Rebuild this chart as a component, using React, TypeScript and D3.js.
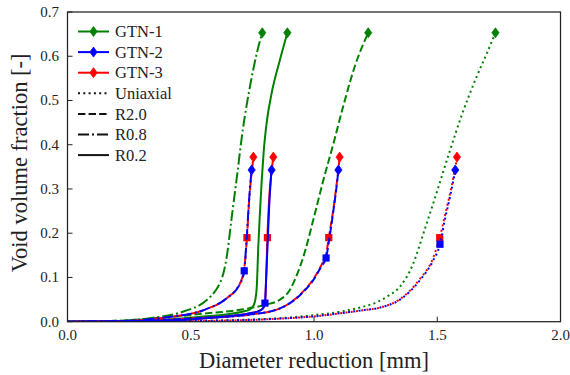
import React from "react";
import * as d3 from "d3";

type Pt = [number, number];

const xTicks = [0, 0.5, 1.0, 1.5, 2.0];
const yTicks = [0, 0.1, 0.2, 0.3, 0.4, 0.5, 0.6, 0.7];

// GTN-1 (green)
const gtn1Uniaxial: Pt[] = [[0,0],[0.3,0.0005],[0.6,0.003],[0.862,0.008],[1.0,0.015],[1.1,0.022],[1.2,0.034],[1.25,0.043],[1.3,0.058],[1.35,0.08],[1.4,0.128],[1.45,0.21],[1.5,0.296],[1.55,0.384],[1.6,0.468],[1.66,0.554],[1.7,0.605],[1.736,0.653]];
const gtn1R20: Pt[] = [[0,0],[0.2,0.002],[0.4,0.01],[0.55,0.018],[0.7,0.027],[0.8,0.038],[0.862,0.05],[0.9,0.07],[0.93,0.105],[0.957,0.147],[0.997,0.23],[1.038,0.32],[1.08,0.405],[1.12,0.49],[1.166,0.578],[1.22,0.653]];
const gtn1R08: Pt[] = [[0,0],[0.2,0.002],[0.335,0.008],[0.47,0.023],[0.565,0.049],[0.6,0.07],[0.619,0.088],[0.635,0.115],[0.646,0.147],[0.666,0.235],[0.686,0.322],[0.713,0.441],[0.74,0.531],[0.768,0.607],[0.79,0.653]];
const gtn1R02: Pt[] = [[0,0],[0.3,0.002],[0.538,0.011],[0.65,0.017],[0.713,0.023],[0.74,0.028],[0.754,0.036],[0.762,0.05],[0.768,0.08],[0.774,0.17],[0.781,0.25],[0.788,0.32],[0.796,0.385],[0.808,0.45],[0.828,0.516],[0.862,0.592],[0.892,0.653]];

// GTN-2 (blue)
const gtn2Uniaxial: Pt[] = [[0,0],[0.3,0.0004],[0.6,0.002],[0.862,0.007],[1.0,0.012],[1.133,0.021],[1.2,0.026],[1.268,0.032],[1.349,0.05],[1.43,0.094],[1.484,0.139],[1.511,0.175],[1.53,0.228],[1.552,0.283],[1.565,0.318],[1.573,0.343]];
const gtn2R20: Pt[] = [[0,0],[0.3,0.002],[0.5,0.007],[0.74,0.016],[0.862,0.03],[0.943,0.06],[0.997,0.094],[1.03,0.125],[1.049,0.144],[1.06,0.18],[1.078,0.248],[1.095,0.322],[1.099,0.343]];
const gtn2R08: Pt[] = [[0,0],[0.2,0.001],[0.402,0.01],[0.551,0.026],[0.646,0.053],[0.693,0.079],[0.708,0.095],[0.717,0.115],[0.727,0.19],[0.736,0.27],[0.743,0.32],[0.747,0.343]];
const gtn2R02: Pt[] = [[0,0],[0.3,0.001],[0.605,0.01],[0.74,0.019],[0.78,0.025],[0.794,0.031],[0.801,0.042],[0.806,0.1],[0.811,0.165],[0.819,0.27],[0.824,0.315],[0.828,0.343]];
const gtn2Squares: Pt[] = [[0.717,0.115],[0.801,0.042],[1.049,0.144],[1.511,0.175]];

// GTN-3 (red)
const gtn3Uniaxial: Pt[] = [[0,0],[0.3,0.0004],[0.6,0.002],[0.862,0.007],[1.0,0.012],[1.133,0.021],[1.2,0.026],[1.268,0.032],[1.349,0.051],[1.43,0.097],[1.484,0.145],[1.51,0.19],[1.53,0.237],[1.552,0.29],[1.565,0.325],[1.573,0.348],[1.58,0.372]];
const gtn3R20: Pt[] = [[0,0],[0.3,0.002],[0.5,0.007],[0.74,0.016],[0.862,0.03],[0.943,0.061],[0.997,0.096],[1.03,0.128],[1.05,0.155],[1.06,0.19],[1.078,0.252],[1.095,0.325],[1.1,0.348],[1.104,0.372]];
const gtn3R08: Pt[] = [[0,0],[0.2,0.001],[0.402,0.01],[0.551,0.026],[0.646,0.053],[0.693,0.08],[0.708,0.098],[0.718,0.125],[0.728,0.19],[0.737,0.275],[0.744,0.32],[0.749,0.345],[0.754,0.372]];
const gtn3R02: Pt[] = [[0,0],[0.3,0.001],[0.605,0.01],[0.74,0.019],[0.78,0.025],[0.794,0.031],[0.802,0.045],[0.806,0.1],[0.811,0.19],[0.819,0.285],[0.826,0.33],[0.835,0.372]];
const gtn3Squares: Pt[] = [[0.728,0.19],[0.811,0.19],[1.06,0.19],[1.51,0.19]];

const gtnNames = ["GTN-1", "GTN-2", "GTN-3"];
const gtnColors = ["#008000", "#0000ff", "#ff0000"];
const loadNames = ["Uniaxial", "R2.0", "R0.8", "R0.2"];
const dashes = ["2,3.3", "7.4,3.2", "11,3,2,3", "none"];
const redOffsets = [2.6, 5.3, 8, 0];

const W = 570, H = 375;
const M = { left: 67.5, top: 12, right: 9.5, bottom: 53.3 };
const FONT = "'Liberation Serif', 'DejaVu Serif', 'Times New Roman', Times, serif";

export default function App() {
  const x = d3.scaleLinear().domain([0, 2]).range([M.left, W - M.right]);
  const y = d3.scaleLinear().domain([0, 0.7]).range([H - M.bottom, M.top]);
  const line = d3.line<Pt>().x(d => x(d[0])).y(d => y(d[1])).curve(d3.curveMonotoneX);

  const groups: { color: string; curves: Pt[][]; squares: Pt[]; isRed: boolean }[] = [
    { color: gtnColors[0], curves: [gtn1Uniaxial, gtn1R20, gtn1R08, gtn1R02], squares: [], isRed: false },
    { color: gtnColors[2], curves: [gtn3Uniaxial, gtn3R20, gtn3R08, gtn3R02], squares: gtn3Squares, isRed: true },
    { color: gtnColors[1], curves: [gtn2Uniaxial, gtn2R20, gtn2R08, gtn2R02], squares: gtn2Squares, isRed: false },
  ];

  const diamond = (cx: number, cy: number) =>
    `M${cx},${cy - 5}L${cx + 3.6},${cy}L${cx},${cy + 5}L${cx - 3.6},${cy}Z`;

  const x0 = M.left, x1 = W - M.right, y0 = H - M.bottom, y1 = M.top;
  const legY = (i: number) => 31.5 + i * 20.6;
  const txt = { fontFamily: FONT, fill: "#222" } as React.CSSProperties;

  return (
    <svg width={W} height={H} style={{ position: "absolute", left: 0, top: 0, background: "#fff" }}>
      <defs>
        <clipPath id="plotClip">
          <rect x={x0} y={y1 - 8} width={x1 - x0} height={y0 - y1 + 8} />
        </clipPath>
      </defs>
      <g clipPath="url(#plotClip)">
        {groups.map((g, gi) => (
          <g key={gi}>
            {g.curves.map((c, ci) => (
              <path key={ci} d={line(c) || ""} fill="none" stroke={g.color} strokeWidth={2}
                strokeDasharray={dashes[ci]} strokeDashoffset={g.isRed ? redOffsets[ci] : 0} />
            ))}
            {g.squares.map((s, si) => (
              <rect key={"s" + si} x={x(s[0]) - 3.6} y={y(s[1]) - 3.6} width={7.2} height={7.2} fill={g.color} />
            ))}
            {g.curves.map((c, ci) => {
              const last = c[c.length - 1];
              return <path key={"d" + ci} d={diamond(x(last[0]), y(last[1]))} fill={g.color} stroke={g.color} strokeWidth={0.8} />;
            })}
          </g>
        ))}
      </g>

      {xTicks.map((t, i) => (
        <g key={"xt" + i}>
          <line x1={x(t)} x2={x(t)} y1={y0} y2={y0 - 5} stroke="#222" strokeWidth={1} />
          <text x={x(t)} y={y0 + 18.5} textAnchor="middle" style={{ ...txt, fontSize: 15 }}>{t.toFixed(1)}</text>
        </g>
      ))}
      {yTicks.map((t, i) => (
        <g key={"yt" + i}>
          <line x1={x0} x2={x0 + 5} y1={y(t)} y2={y(t)} stroke="#222" strokeWidth={1} />
          <text x={59} y={y(t)} dy="0.33em" textAnchor="end" style={{ ...txt, fontSize: 15 }}>{t.toFixed(1)}</text>
        </g>
      ))}

      <rect x={x0} y={y1} width={x1 - x0} height={y0 - y1} fill="none" stroke="#222" strokeWidth={1.25} />

      <text x={(x0 + x1) / 2} y={367.5} textAnchor="middle" style={{ ...txt, fontSize: 22.5 }}>Diameter reduction [mm]</text>
      <text transform={`translate(27,${(y0 + y1) / 2 - 4}) rotate(-90)`} textAnchor="middle" style={{ ...txt, fontSize: 22.5 }}>Void volume fraction [-]</text>

      {gtnNames.map((n, i) => (
        <g key={"lg" + i}>
          <line x1={78} x2={109} y1={legY(i)} y2={legY(i)} stroke={gtnColors[i]} strokeWidth={2} />
          <path d={diamond(93.5, legY(i))} fill={gtnColors[i]} stroke={gtnColors[i]} strokeWidth={0.8} />
          <text x={115} y={legY(i)} dy="0.34em" style={{ ...txt, fontSize: 16.5 }}>{n}</text>
        </g>
      ))}
      {loadNames.map((n, i) => (
        <g key={"ll" + i}>
          <line x1={78} x2={109} y1={legY(i + 3)} y2={legY(i + 3)} stroke="#111" strokeWidth={2}
            strokeDasharray={dashes[i]} />
          <text x={115} y={legY(i + 3)} dy="0.34em" style={{ ...txt, fontSize: 16.5 }}>{n}</text>
        </g>
      ))}
    </svg>
  );
}
